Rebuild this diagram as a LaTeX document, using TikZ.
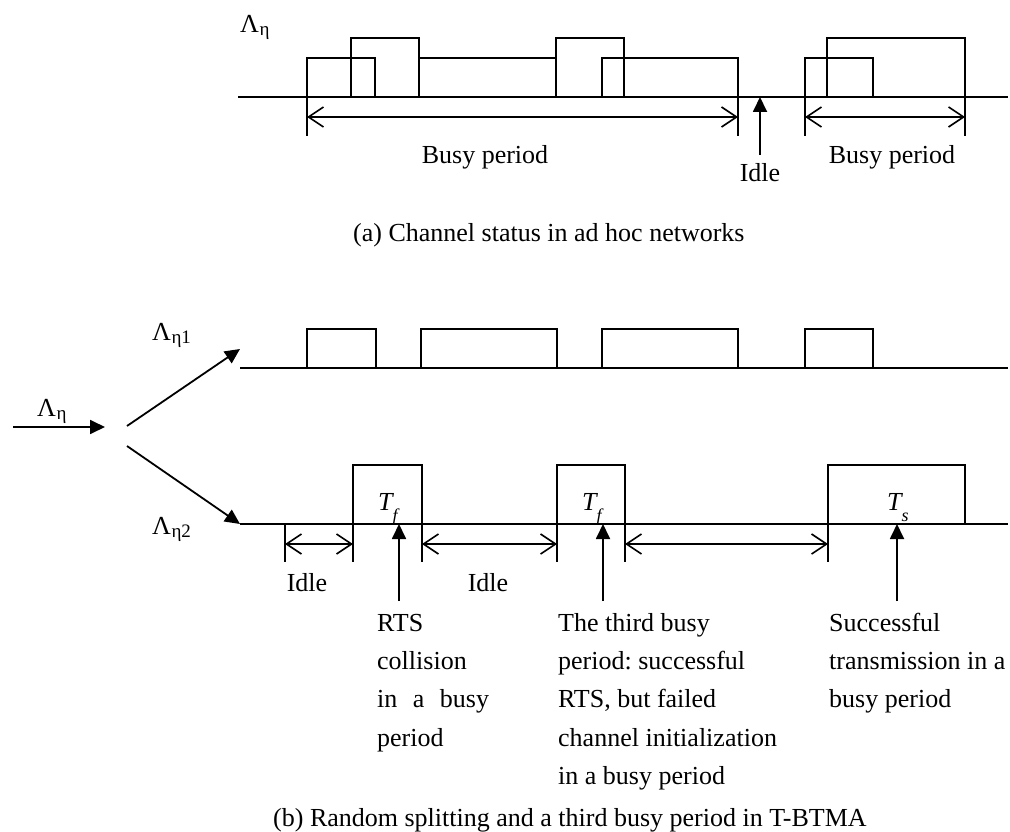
\documentclass[tikz,border=0pt]{standalone}
\usepackage{fontspec}
\setmainfont{Liberation Serif}
\usetikzlibrary{arrows.meta}
\frenchspacing
\newcommand\Lsub[1]{Λ\kern0.5pt\raisebox{-3pt}{\fontsize{19}{19}\selectfont #1}}
\newcommand\Tsub[1]{\textit{T}\kern-1.5pt\raisebox{-11pt}{\fontsize{18}{18}\selectfont\itshape #1}}
\begin{document}
\begin{tikzpicture}[x=1pt,y=-1pt,
  wave/.style={line width=1.8pt},
  dimarrow/.style={line width=1.6pt,
    {Straight Barb[length=15pt,width=20pt]}-{Straight Barb[length=15pt,width=20pt]}},
  uparrow/.style={line width=1.8pt,-{Triangle[length=15pt,width=14pt]}},
  lbl/.style={inner sep=0pt,font=\fontsize{26}{38.4}\selectfont},
]
\useasboundingbox (0,0) rectangle (1010,832);

% ---------------- (a) ----------------
\node[lbl,anchor=base west] (lamA) at (240,33) {\Lsub{η}};
\draw[wave] (238,97) -- (1008,97);
\draw[wave] (307,58) rectangle (375,97);
\draw[wave] (351,38) rectangle (419,97);
\draw[wave] (419,58) rectangle (556,97);
\draw[wave] (556,38) rectangle (624,97);
\draw[wave] (602,58) rectangle (738,97);
\draw[wave] (805,58) rectangle (873,97);
\draw[wave] (827,38) rectangle (965,97);
% ticks
\foreach \x in {307,738,805,965} \draw[wave] (\x,97) -- (\x,136);
\coordinate (a1l) at (307,117); \coordinate (a1r) at (738,117);
\coordinate (a2l) at (805,117); \coordinate (a2r) at (965,117);
\draw[dimarrow] (a1l) -- (a1r);
\draw[dimarrow] (a2l) -- (a2r);
\node[lbl,anchor=base] (busyA) at (485,164) {Busy period};
\node[lbl,anchor=base] (busyB) at (892,164) {Busy period};
\coordinate (idleAtail) at (760,155); \coordinate (idleAtip) at (760,97);
\draw[uparrow] (idleAtail) -- (idleAtip);
\node[lbl,anchor=base] (idleA) at (760,182) {Idle};
\node[lbl,anchor=base west] (capA) at (353,241) {(a) Channel status in ad hoc networks};

% ---------------- (b) ----------------
\coordinate (in0) at (13,427); \coordinate (in1) at (105,427);
\draw[uparrow] (in0) -- (in1);
\node[lbl,anchor=base west] (lamIn) at (37,416) {\Lsub{η}};
\coordinate (s1) at (127,426); \coordinate (e1) at (240,349);
\coordinate (s2) at (127,446); \coordinate (e2) at (240,524);
\draw[uparrow] (s1) -- (e1);
\draw[uparrow] (s2) -- (e2);
\node[lbl,anchor=base west] (lam1) at (152,340) {\Lsub{η1}};
\node[lbl,anchor=base west] (lam2) at (152,534) {\Lsub{η2}};

% lambda_eta1 line
\draw[wave] (240,368) -- (1008,368);
\draw[wave] (307,329) rectangle (376,368);
\draw[wave] (421,329) rectangle (557,368);
\draw[wave] (602,329) rectangle (738,368);
\draw[wave] (805,329) rectangle (873,368);

% lambda_eta2 line
\draw[wave] (240,524) -- (1008,524);
\draw[wave] (353,465) rectangle (422,524);
\draw[wave] (557,465) rectangle (625,524);
\draw[wave] (828,465) rectangle (965,524);
\foreach \x in {285,353,422,557,625,828} \draw[wave] (\x,524) -- (\x,562);
\coordinate (b1l) at (285,544); \coordinate (b1r) at (353,544);
\coordinate (b2l) at (422,544); \coordinate (b2r) at (557,544);
\coordinate (b3l) at (625,544); \coordinate (b3r) at (828,544);
\draw[dimarrow] (b1l) -- (b1r);
\draw[dimarrow] (b2l) -- (b2r);
\draw[dimarrow] (b3l) -- (b3r);
\node[lbl,anchor=base] (idle1) at (307,591) {Idle};
\node[lbl,anchor=base] (idle2) at (488,591) {Idle};

\node[lbl,anchor=base west] (tf1) at (378,510) {\Tsub{f}};
\node[lbl,anchor=base west] (tf2) at (582,510) {\Tsub{f}};
\node[lbl,anchor=base west] (ts) at (887,510) {\Tsub{s}};

\coordinate (u1t) at (399,601); \coordinate (u1h) at (399,524);
\coordinate (u2t) at (603,601); \coordinate (u2h) at (603,524);
\coordinate (u3t) at (897,601); \coordinate (u3h) at (897,524);
\draw[uparrow] (u1t) -- (u1h);
\draw[uparrow] (u2t) -- (u2h);
\draw[uparrow] (u3t) -- (u3h);

\node[lbl,anchor=north west,align=left] (txt1) at (377,604.1)
  {\strut RTS\\collision\\in\hspace{15.5pt}a\hspace{15.5pt}busy\\period};
\node[lbl,anchor=north west,align=left] (txt2) at (558,604.1)
  {\strut The third busy\\period: successful\\RTS, but failed\\channel initialization\\in a busy period};
\node[lbl,anchor=north west,align=left] (txt3) at (829,604.1)
  {\strut Successful\\transmission in a\\busy period};

\node[lbl,anchor=base west] (capB) at (273,826) {(b) Random splitting and a third busy period in T-BTMA};
\end{tikzpicture}
\end{document}
